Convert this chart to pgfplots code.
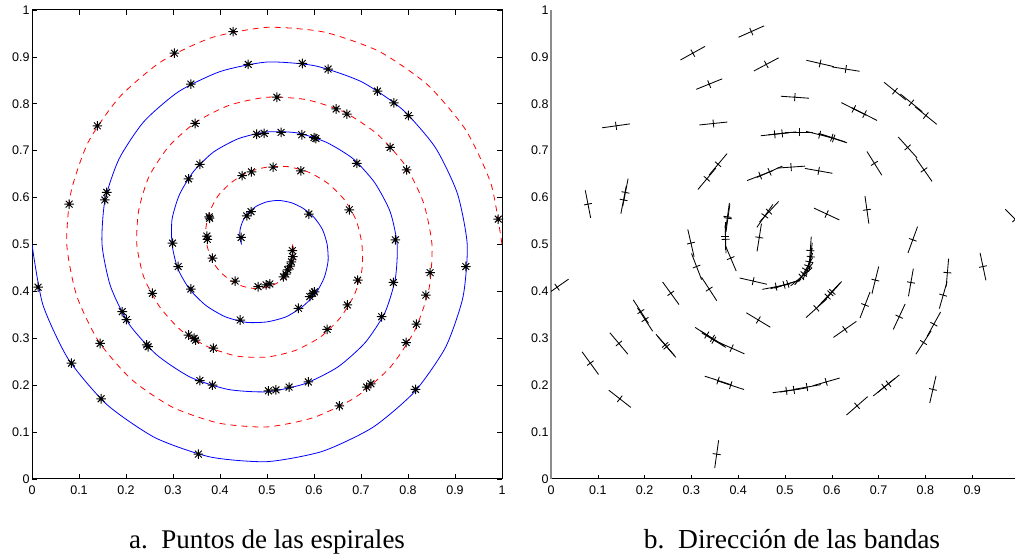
\documentclass[border=0pt]{standalone}
\usepackage{pgfplots}
\pgfplotsset{compat=1.18}
\usepackage{fontspec}
\setmainfont{Liberation Serif}
\newfontfamily\ticksf{Liberation Sans}

\pgfdeclareplotmark{ast8}{%
  \pgfpathmoveto{\pgfqpoint{-\pgfplotmarksize}{0pt}}\pgfpathlineto{\pgfqpoint{\pgfplotmarksize}{0pt}}%
  \pgfpathmoveto{\pgfqpoint{0pt}{-\pgfplotmarksize}}\pgfpathlineto{\pgfqpoint{0pt}{\pgfplotmarksize}}%
  \pgfpathmoveto{\pgfqpoint{-0.7071\pgfplotmarksize}{-0.7071\pgfplotmarksize}}\pgfpathlineto{\pgfqpoint{0.7071\pgfplotmarksize}{0.7071\pgfplotmarksize}}%
  \pgfpathmoveto{\pgfqpoint{-0.7071\pgfplotmarksize}{0.7071\pgfplotmarksize}}\pgfpathlineto{\pgfqpoint{0.7071\pgfplotmarksize}{-0.7071\pgfplotmarksize}}%
  \pgfusepathqstroke}
\pgfdeclareplotmark{dirm}{%
  \pgfpathmoveto{\pgfqpoint{-14pt}{0pt}}\pgfpathlineto{\pgfqpoint{14pt}{0pt}}%
  \pgfpathmoveto{\pgfqpoint{0pt}{-4pt}}\pgfpathlineto{\pgfqpoint{0pt}{4pt}}%
  \pgfusepathqstroke}

\pgfplotstableread{
x y
0.446 0.500
0.442 0.515
0.443 0.533
0.449 0.551
0.461 0.568
0.478 0.582
0.500 0.591
0.525 0.594
0.552 0.589
0.577 0.577
0.600 0.558
0.618 0.532
0.628 0.500
0.630 0.465
0.622 0.430
0.604 0.396
0.576 0.368
0.541 0.346
0.500 0.335
0.456 0.334
0.411 0.346
0.370 0.370
0.335 0.405
0.310 0.449
0.298 0.500
0.298 0.554
0.314 0.607
0.344 0.656
0.386 0.697
0.440 0.726
0.500 0.740
0.564 0.738
0.626 0.718
0.683 0.683
0.729 0.632
0.762 0.570
0.777 0.500
0.773 0.427
0.751 0.355
0.709 0.291
0.651 0.239
0.580 0.203
0.500 0.186
0.417 0.191
0.337 0.217
0.265 0.265
0.206 0.331
0.167 0.411
0.149 0.500
0.155 0.593
0.185 0.682
0.238 0.762
0.312 0.826
0.401 0.869
0.500 0.889
0.602 0.881
0.701 0.847
0.788 0.788
0.858 0.707
0.905 0.609
0.926 0.500
0.917 0.388
0.880 0.281
0.814 0.186
0.725 0.110
0.618 0.059
0.500 0.037
0.379 0.047
0.262 0.088
0.159 0.159
0.077 0.256
0.023 0.372
0.000 0.500
}\bluespiral

\pgfplotstableread{
x y
0.554 0.500
0.558 0.485
0.557 0.467
0.551 0.449
0.539 0.432
0.522 0.418
0.500 0.409
0.475 0.406
0.448 0.411
0.423 0.423
0.400 0.442
0.382 0.468
0.372 0.500
0.370 0.535
0.378 0.570
0.396 0.604
0.424 0.632
0.459 0.654
0.500 0.665
0.544 0.666
0.589 0.654
0.630 0.630
0.665 0.595
0.690 0.551
0.702 0.500
0.702 0.446
0.686 0.393
0.656 0.344
0.614 0.303
0.560 0.274
0.500 0.260
0.436 0.262
0.374 0.282
0.317 0.317
0.271 0.368
0.238 0.430
0.223 0.500
0.227 0.573
0.249 0.645
0.291 0.709
0.349 0.761
0.420 0.797
0.500 0.814
0.583 0.809
0.663 0.783
0.735 0.735
0.794 0.669
0.833 0.589
0.851 0.500
0.845 0.407
0.815 0.318
0.762 0.238
0.688 0.174
0.599 0.131
0.500 0.111
0.398 0.119
0.299 0.153
0.212 0.212
0.142 0.293
0.095 0.391
0.074 0.500
0.083 0.612
0.120 0.719
0.186 0.814
0.275 0.890
0.382 0.941
0.500 0.963
0.621 0.953
0.738 0.912
0.841 0.841
0.923 0.744
0.977 0.628
1.000 0.500
}\redspiral

\pgfplotstableread{
x y a
0.460 0.884 28
0.338 0.842 22
0.478 0.735 6
0.494 0.737 6
0.357 0.671 50
0.333 0.640 50
0.159 0.611 79
0.155 0.595 79
0.457 0.561 55
0.466 0.570 47
0.445 0.515 81
0.299 0.503 -77
0.575 0.886 -13
0.630 0.874 -9
0.735 0.827 -39
0.770 0.802 -39
0.801 0.775 -39
0.530 0.739 0
0.574 0.734 -14
0.600 0.728 -18
0.604 0.726 -18
0.691 0.673 -58
0.589 0.565 -25
0.773 0.510 70
0.013 0.409 35
0.084 0.247 -54
0.147 0.171 -38
0.192 0.357 -57
0.201 0.340 -57
0.244 0.286 -49
0.247 0.282 -49
0.311 0.453 -69
0.338 0.405 -57
0.443 0.339 -31
0.357 0.210 -18
0.384 0.200 -18
0.354 0.053 82
0.591 0.389 46
0.597 0.396 47
0.601 0.399 48
0.567 0.364 42
0.769 0.419 80
0.744 0.346 65
0.923 0.453 -78
0.816 0.191 77
0.503 0.188 8
0.519 0.190 9
0.547 0.196 10
0.588 0.207 16
0.428 0.954 24
0.303 0.908 29
0.139 0.753 8
0.347 0.758 6
0.447 0.647 21
0.467 0.655 24
0.079 0.586 -79
0.377 0.559 82
0.378 0.556 82
0.372 0.518 90
0.373 0.511 -88
0.521 0.814 -4
0.647 0.789 -27
0.670 0.778 -27
0.762 0.707 -48
0.797 0.659 -55
0.513 0.665 4
0.572 0.657 -10
0.675 0.574 -82
0.992 0.554 -45
0.145 0.289 -50
0.256 0.396 -54
0.384 0.471 -67
0.432 0.422 -13
0.481 0.410 11
0.498 0.414 16
0.506 0.416 18
0.333 0.307 -33
0.345 0.300 -32
0.348 0.296 -31
0.386 0.279 -24
0.554 0.487 86
0.555 0.474 84
0.552 0.463 78
0.549 0.454 70
0.544 0.446 60
0.540 0.437 50
0.535 0.431 40
0.693 0.424 76
0.671 0.371 69
0.628 0.319 35
0.847 0.440 85
0.838 0.392 74
0.818 0.330 61
0.796 0.291 57
0.712 0.196 39
0.721 0.203 39
0.654 0.156 41
}\points

\begin{document}
\begin{tikzpicture}
\useasboundingbox (0,0) rectangle (1015pt,556pt);
\pgfplotsset{
  every axis/.append style={
    scale only axis, xmin=0, xmax=1, ymin=0, ymax=1,
    ytick={0,0.1,0.2,0.3,0.4,0.5,0.6,0.7,0.8,0.9,1},
    tick align=inside, major tick length=5pt,
    tick style={black, line width=0.6pt},
    tick label style={font=\ticksf\fontsize{12.5}{14}\selectfont},
    /pgf/number format/assume math mode=true,
    xticklabel style={yshift=-3pt},
    yticklabel style={xshift=1pt},
  }
}
% left panel
\begin{axis}[at={(32pt,77pt)}, anchor=south west, width=470pt, height=469pt,
  xtick={0,0.1,0.2,0.3,0.4,0.5,0.6,0.7,0.8,0.9,1},
  axis line style={black, line width=1pt}]
\addplot[blue, line width=0.8pt, no marks, smooth, tension=0.4] table[x=x,y=y] {\bluespiral};
\addplot[red, line width=0.8pt, no marks, smooth, tension=0.4, dash pattern=on 6pt off 5pt] table[x=x,y=y] {\redspiral};
\addplot[only marks, mark=ast8, mark size=4.8pt, mark options={black, line width=1pt}] table[x=x,y=y] {\points};
\end{axis}
% right panel
\begin{axis}[at={(551pt,77pt)}, anchor=south west, width=468pt, height=469pt,
  xtick={0,0.1,0.2,0.3,0.4,0.5,0.6,0.7,0.8,0.9},
  axis lines*=left,
  x axis line style={black, line width=1pt},
  y axis line style={draw=black!45, line width=1.6pt},
  ytick style={draw=none},
  major tick length=4pt,
  clip marker paths=true]
\addplot[scatter, only marks, mark=dirm,
  scatter/use mapped color={draw=black, fill=black},
  mark options={line width=0.85pt, solid},
  visualization depends on={\thisrow{a} \as \ang},
  scatter/@pre marker code/.append style={/tikz/rotate=\ang}]
  table[x=x,y=y] {\points};
\end{axis}
\node[anchor=base, font=\fontsize{27}{30}\selectfont] at (267pt,7pt) {a.\ \ Puntos de las espirales};
\node[anchor=base, font=\fontsize{27.5}{30}\selectfont] at (792pt,7pt) {b.\ \ Dirección de las bandas};
\end{tikzpicture}
\end{document}
